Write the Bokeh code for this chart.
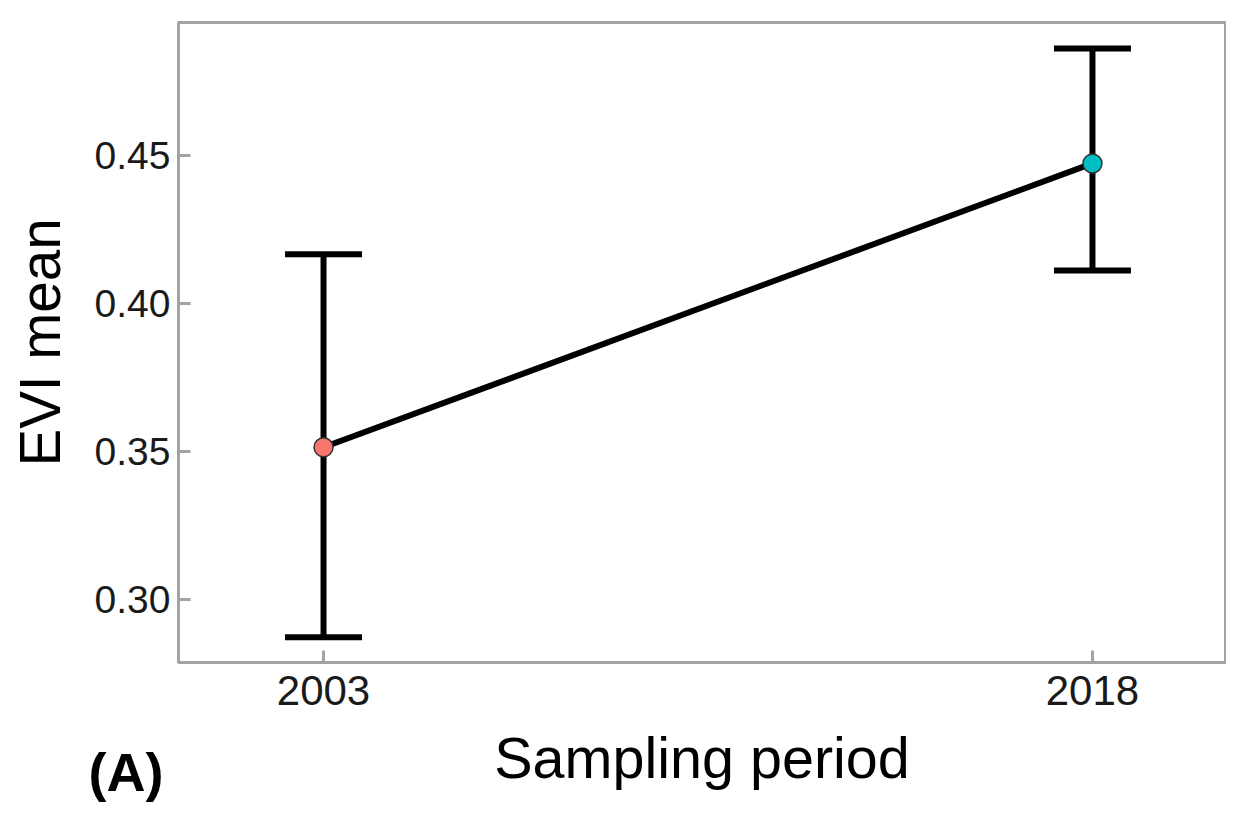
from bokeh.plotting import figure
from bokeh.models import (ColumnDataSource, Range1d, FixedTicker, Whisker, TeeHead,
                          Title, PrintfTickFormatter)
from bokeh.embed import file_html
from bokeh.resources import INLINE

# ---- data ----
periods = ["2003", "2018"]
evi_mean = [0.3514, 0.4473]
evi_upper = [0.4166, 0.4861]
evi_lower = [0.2872, 0.4111]
point_colors = ["#F8766D", "#00BFC4"]
y_ticks = [0.30, 0.35, 0.40, 0.45]

xpos = list(range(len(periods)))
src = ColumnDataSource(dict(x=xpos, mean=evi_mean, upper=evi_upper, lower=evi_lower,
                            color=point_colors))

p = figure(width=1226, height=807, output_backend="svg", toolbar_location=None,
           x_range=Range1d(-0.1886, 1.173), y_range=Range1d(0.2787, 0.4949))
p.min_border_left = 178
p.min_border_top = 22
p.min_border_right = 1
p.min_border_bottom = 145
p.background_fill_color = "white"
p.border_fill_color = "white"
p.grid.visible = False
p.outline_line_color = "#a3a3a3"
p.outline_line_width = 3

FONT = "Liberation Sans"
for ax in (p.xaxis[0], p.yaxis[0]):
    ax.axis_line_color = None
    ax.major_tick_in = 12
    ax.major_tick_out = 0
    ax.major_tick_line_color = "#a3a3a3"
    ax.major_tick_line_width = 3
    ax.minor_tick_line_color = None
    ax.major_label_text_font = FONT
    ax.major_label_text_color = "#1a1a1a"
    ax.axis_label_text_font = FONT
    ax.axis_label_text_font_style = "normal"
    ax.axis_label_text_color = "black"

p.xaxis.ticker = FixedTicker(ticks=xpos)
p.xaxis.major_label_overrides = {i: s for i, s in zip(xpos, periods)}
p.xaxis.axis_label = "Sampling period"
p.xaxis.major_label_text_font_size = "42px"
p.xaxis.axis_label_text_font_size = "57.5px"
p.xaxis.major_label_standoff = 13
p.xaxis.axis_label_standoff = 18

p.yaxis.ticker = FixedTicker(ticks=y_ticks)
p.yaxis.formatter = PrintfTickFormatter(format="%.2f")
p.yaxis.axis_label = "EVI mean"
p.yaxis.major_label_text_font_size = "39px"
p.yaxis.axis_label_text_font_size = "56.5px"
p.yaxis.major_label_standoff = 8
p.yaxis.axis_label_standoff = 20

# error bars
w = Whisker(source=src, base="x", upper="upper", lower="lower", dimension="height",
            line_color="black", line_width=6,
            upper_head=TeeHead(size=77, line_color="black", line_width=6),
            lower_head=TeeHead(size=77, line_color="black", line_width=6))
p.add_layout(w)

p.line("x", "mean", source=src, line_color="black", line_width=6)
p.scatter("x", "mean", source=src, size=19, fill_color="color", line_color="#333333",
          line_width=1.5)

# panel tag "(A)" as a title in the bottom panel, pulled up next to the axis label
tag = Title(text="(A)", align="left", offset=-90, vertical_align="top", standoff=-102,
            text_font=FONT, text_font_size="54px", text_font_style="bold",
            text_color="black")
p.add_layout(tag, "below")

open("out.html", "w").write(file_html(p, INLINE))
